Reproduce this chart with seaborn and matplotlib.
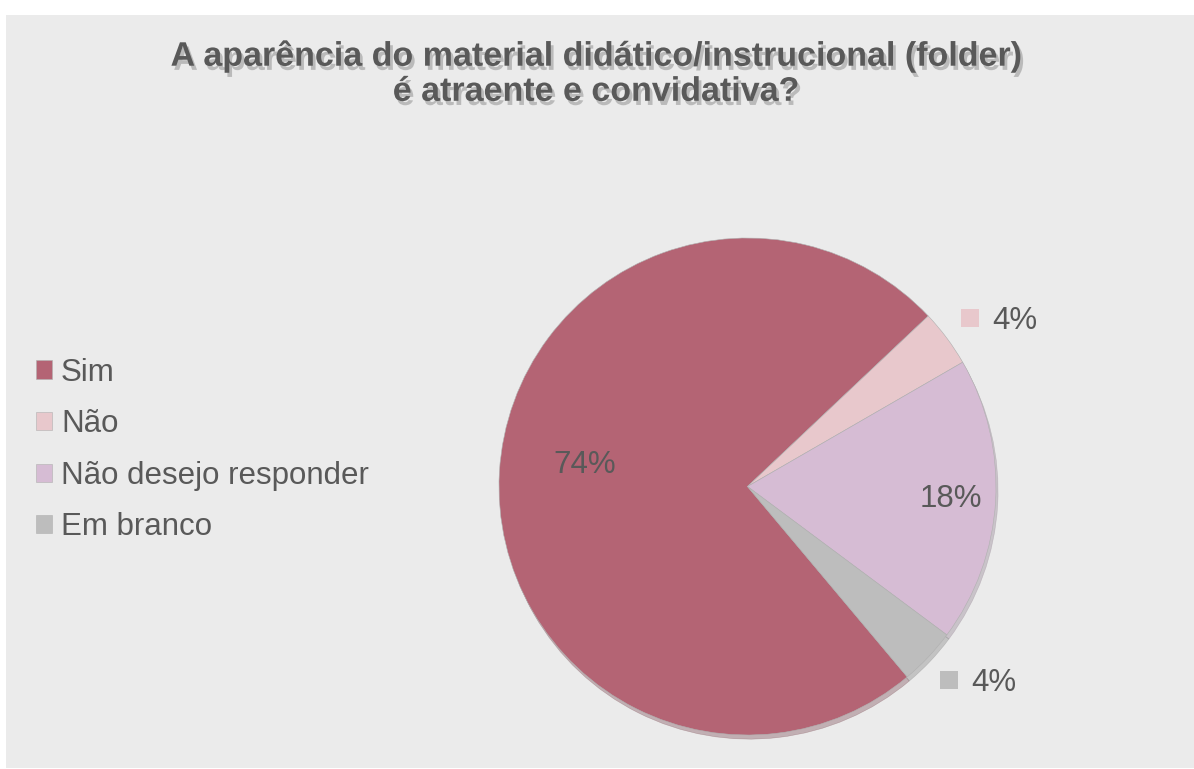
import numpy as np
import matplotlib
matplotlib.use("Agg")
import matplotlib.pyplot as plt
import matplotlib.patheffects as pe
from matplotlib.patches import Rectangle
import seaborn as sns

# ---- data ----
categories = ["Sim", "Não", "Não desejo responder", "Em branco"]
counts = [20, 1, 5, 1]
pct_labels = ["74%", "4%", "18%", "4%"]
colors = ["#b46474", "#e8c8cc", "#d6bcd4", "#bdbdbd"]
title = "A aparência do material didático/instrucional (folder)\né atraente e convidativa?"

sns.set_theme(style="white")
plt.rcParams["font.family"] = ["Liberation Sans", "DejaVu Sans"]
TXT = "#595959"

W, H = 1194, 769
fig = plt.figure(figsize=(W / 100, H / 100), dpi=100, facecolor="white")

# gray chart panel
fig.patches.append(Rectangle((6 / W, 1 / H), (W - 6) / W, (H - 15 - 1) / H,
                             transform=fig.transFigure, facecolor="#ebebeb",
                             edgecolor="none", zorder=-5))

# pie axes: 1 data unit = R px
R = 248.5
cx, cy = 747.5, H - 486.5
left_px, right_px, bot_px, top_px = 430, 1180, 10, 600
ax = fig.add_axes([left_px / W, bot_px / H, (right_px - left_px) / W, (top_px - bot_px) / H])
ax.set_facecolor("none")
ax.set_zorder(2)

wedges, _ = ax.pie(counts, colors=colors, startangle=-50, counterclock=False,
                   radius=1, wedgeprops=dict(linewidth=0.4, edgecolor="#b0b0b0"),
                   shadow=dict(ox=0.006, oy=-0.012, shade=0.35, alpha=0.35))
ax.set_aspect("auto")
ax.set_xlim((left_px - cx) / R, (right_px - cx) / R)
ax.set_ylim((bot_px - cy) / R, (top_px - cy) / R)
ax.axis("off")

# label placement (radius, angle offset from slice middle in degrees)
label_place = [(0.663, -5.2), (1.123, 0.6), (0.820, 0.66), (1.124, -0.4)]
for i, w in enumerate(wedges):
    r, off = label_place[i]
    ang = np.deg2rad((w.theta1 + w.theta2) / 2 + off)
    x, y = r * np.cos(ang), r * np.sin(ang)
    if counts[i] / sum(counts) > 0.1:
        ax.text(x, y - 0.012, pct_labels[i], ha="center", va="center",
                fontsize=22.5, color=TXT)
    else:
        ax.scatter([x], [y], marker="s", s=150, color=colors[i], linewidths=0)
        ax.text(x + 0.09, y - 0.012, pct_labels[i], ha="left", va="center",
                fontsize=22.5, color=TXT)

# legend
leg = fig.legend(wedges, categories, loc="center left",
                 bbox_to_anchor=(23 / W, 1 - 450 / H), frameon=False,
                 fontsize=22.5, handlelength=0.52, handleheight=0.52,
                 handletextpad=0.3, labelspacing=0.69, borderaxespad=0)
for t in leg.get_texts():
    t.set_color(TXT)

# title
fig.text(596 / W, 1 - 74 / H, title, ha="center", va="center", fontsize=24.5,
         fontweight="bold", color=TXT, linespacing=1.17,
         path_effects=[pe.SimplePatchShadow(offset=(2, -3), shadow_rgbFace="#808080", alpha=0.45),
                       pe.Normal()])

fig.savefig("out.png", dpi=100, facecolor="white")
